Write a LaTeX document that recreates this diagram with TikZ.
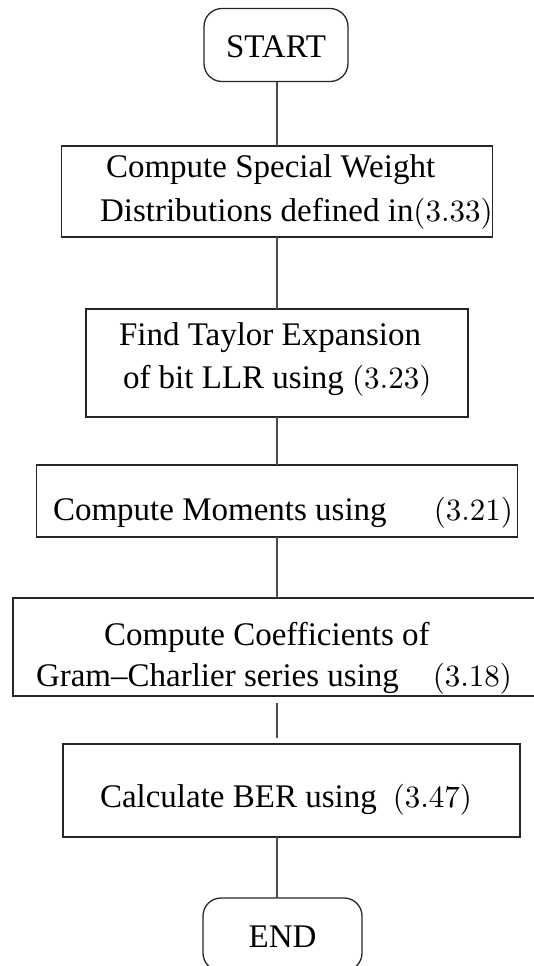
\documentclass[tikz,border=0pt]{standalone}
\usepackage{fontspec}
\setmainfont{Liberation Serif}
\newfontfamily\eqfont{lmroman10-regular.otf}
\newcommand{\eqnum}[1]{{\eqfont\fontsize{31}{38}\selectfont(#1)}}
\begin{document}
\begin{tikzpicture}[x=1pt,y=-1pt,
  every node/.style={font=\fontsize{33}{40}\selectfont, inner sep=0pt, outer sep=0pt},
  terminal/.style={draw=black!85, line width=1.3pt, rounded corners=18pt, text height=25pt, text depth=0pt},
  procbox/.style={draw=black!85, line width=1.3pt},
  textline/.style={anchor=base west},
  link/.style={draw=black!70, line width=1.2pt}]
\useasboundingbox (0,0) rectangle (534,966);

% terminals
\node[terminal, minimum width=144pt, minimum height=73pt] (start) at (276,45) {START};
\node[terminal, minimum width=159pt, minimum height=73pt] (end) at (282.5,934.5) {END};

% process boxes
\node[procbox, minimum width=431pt, minimum height=91pt] (b1) at (277,191.5) {};
\node[procbox, minimum width=382pt, minimum height=108pt] (b2) at (277,363) {};
\node[procbox, minimum width=481pt, minimum height=72pt] (b3) at (277,501) {};
\node[procbox, minimum width=528pt, minimum height=98pt] (b4) at (277,647) {};
\node[procbox, minimum width=457pt, minimum height=93pt] (b5) at (291.5,790.5) {};

% box texts
\node[textline] (b1a) at (106,177) {Compute Special Weight};
\node[textline] (b1b) at (100,221) {Distributions defined in\eqnum{3.33}};
\node[textline] (b2a) at (119,345) {Find Taylor Expansion};
\node[textline] (b2b) at (123,388) {of bit LLR using \eqnum{3.23}};
\node[textline] (b3a) at (53,520) {\makebox[460pt][s]{Compute Moments using\hfill\eqnum{3.21}}};
\node[textline] (b4a) at (104,645) {Compute Coefficients of};
\node[textline] (b4b) at (36,686) {\makebox[476pt][s]{Gram--Charlier series using\hfill\eqnum{3.18}}};
\node[textline] (b5a) at (100,807) {\makebox[372pt][s]{Calculate BER using\hfill\eqnum{3.47}}};

% connectors, all on one vertical spine
\draw[link] (b1.north |- start.south) -- (b1.north);
\draw[link] (b1.south) -- (b2.north);
\draw[link] (b2.south) -- (b3.north);
\draw[link] (b3.south) -- (b4.north);
\draw[link, shorten <=7pt, shorten >=6pt] (b4.south) -- (b4.south |- b5.north);
\draw[link] (b4.south |- b5.south) -- (b4.south |- end.north);
\end{tikzpicture}
\end{document}
